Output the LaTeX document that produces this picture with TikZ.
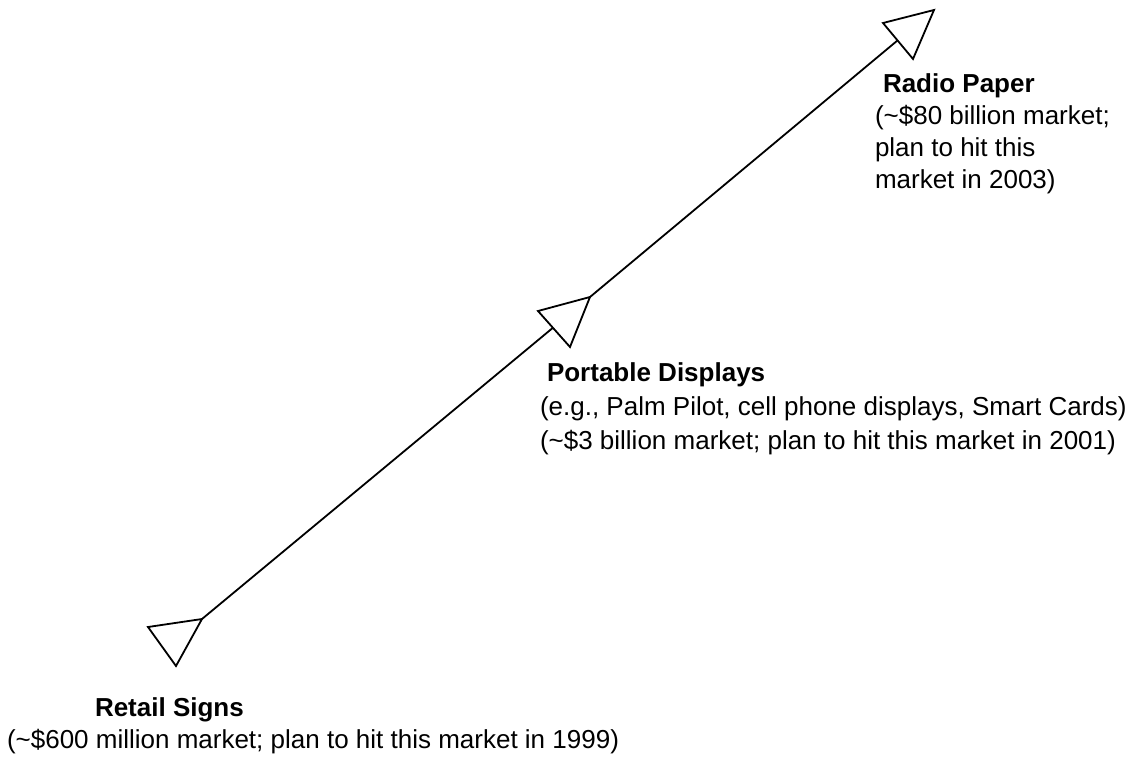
\documentclass[tikz,border=0pt]{standalone}
\usepackage{fontspec}
\setmainfont{Liberation Sans}
\begin{document}
\begin{tikzpicture}[x=1pt,y=-1pt,
  conn/.style={line width=1.8pt},
  tri/.style={draw, line width=1.8pt, fill=white, line join=miter},
  lbl/.style={anchor=north west, inner sep=0pt, outer sep=0pt, align=left,
    font=\fontsize{26}{32}\selectfont}]
\useasboundingbox (0,0) rectangle (1148,760);
% tips of the three markers, all on one line
\coordinate (t1) at (202,619);
\coordinate (t2) at (590,297);
\coordinate (t3) at (934,10);
\draw[conn] (t1) -- (t2) -- (t3);
\draw[tri] (t1) -- (148,627) -- (176,666) -- cycle;
\draw[tri] (t2) -- (538,311) -- (570,347) -- cycle;
\draw[tri] (t3) -- (883,23) -- (913,59) -- cycle;
% labels
\node[lbl] (radio) at (875,73.7) {\hspace*{8pt}\textbf{Radio Paper}\\(\textasciitilde\$80 billion market;\\plan to hit this\\market in 2003)};
\node[lbl, font=\fontsize{26}{34}\selectfont] (portable) at (540,362.5) {\hspace*{7pt}\textbf{Portable Displays}\\(e.g., Palm Pilot, cell phone displays, Smart Cards)\\(\textasciitilde\$3 billion market; plan to hit this market in 2001)};
\node[lbl] (retail) at (7,697.7) {\hspace*{88pt}\textbf{Retail Signs}\\(\textasciitilde\$600 million market; plan to hit this market in 1999)};
\end{tikzpicture}
\end{document}
